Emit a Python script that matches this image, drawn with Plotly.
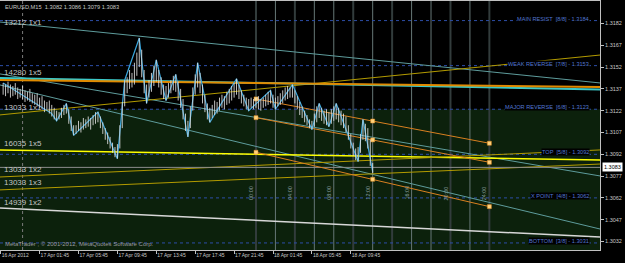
import plotly.graph_objects as go
import pandas as pd

# ---------------- data ----------------
HEADER = "EURUSD,M15  1.3082 1.3086 1.3079 1.3083"
COPYRIGHT = "MetaTrader , © 2001-2012, MetaQuotes Software Corp."
FIRST_BAR = "2012-04-16 22:00"
LAST_PRICE = 1.3083

HIGHS = [1.3141, 1.3140, 1.3142, 1.3140, 1.3139, 1.3141, 1.3138, 1.3137, 1.3139, 1.3136,
         1.3135, 1.3137, 1.3134, 1.3133, 1.3134, 1.3131, 1.3132, 1.3129, 1.3128, 1.3129,
         1.3126, 1.3124, 1.3122, 1.3121, 1.3124,
         1.3126, 1.3127, 1.3123, 1.3118, 1.3112,
         1.3112, 1.3115, 1.3114, 1.3117, 1.3116, 1.3118, 1.3117, 1.3119, 1.3121, 1.3121,
         1.3118, 1.3114, 1.3110, 1.3107, 1.3104, 1.3100, 1.3097, 1.3099,
         1.3112, 1.3128, 1.3143, 1.3145, 1.3150, 1.3148, 1.3155, 1.3162, 1.3172,
         1.3164, 1.3150, 1.3140,
         1.3143, 1.3148, 1.3153, 1.3157,
         1.3150, 1.3145, 1.3140, 1.3139, 1.3141, 1.3143, 1.3146, 1.3147, 1.3142, 1.3137, 1.3130, 1.3120, 1.3115,
         1.3125, 1.3138, 1.3147, 1.3155,
         1.3148, 1.3140, 1.3133, 1.3127, 1.3124,
         1.3126, 1.3129, 1.3128, 1.3131, 1.3133, 1.3132, 1.3135, 1.3137, 1.3139, 1.3141, 1.3144,
         1.3140, 1.3136, 1.3133, 1.3131, 1.3130, 1.3131, 1.3130, 1.3131, 1.3132, 1.3130,
         1.3131, 1.3133, 1.3135, 1.3136, 1.3133, 1.3131, 1.3132, 1.3134, 1.3136, 1.3138,
         1.3139, 1.3138, 1.3140,
         1.3136, 1.3132, 1.3128, 1.3125, 1.3122, 1.3119, 1.3116, 1.3115,
         1.3120, 1.3125, 1.3127, 1.3124, 1.3122, 1.3123, 1.3121, 1.3123, 1.3125, 1.3127, 1.3124, 1.3122, 1.3120, 1.3118,
         1.3112, 1.3106, 1.3100, 1.3096, 1.3097,
         1.3106, 1.3116, 1.3113, 1.3110, 1.3102, 1.3086]
LOWS = [1.3133, 1.3132, 1.3134, 1.3131, 1.3132, 1.3133, 1.3130, 1.3131, 1.3130, 1.3128,
        1.3129, 1.3128, 1.3127, 1.3126, 1.3125, 1.3124, 1.3123, 1.3121, 1.3122, 1.3120,
        1.3118, 1.3116, 1.3115, 1.3116, 1.3117,
        1.3119, 1.3120, 1.3113, 1.3108, 1.3105,
        1.3106, 1.3108, 1.3107, 1.3109, 1.3110, 1.3111, 1.3109, 1.3112, 1.3113, 1.3114,
        1.3110, 1.3106, 1.3102, 1.3099, 1.3096, 1.3093, 1.3090, 1.3089,
        1.3096, 1.3110, 1.3125, 1.3134, 1.3137, 1.3138, 1.3140, 1.3146, 1.3152,
        1.3145, 1.3134, 1.3127,
        1.3131, 1.3135, 1.3139, 1.3142,
        1.3138, 1.3133, 1.3130, 1.3129, 1.3131, 1.3134, 1.3136, 1.3135, 1.3129, 1.3124, 1.3116, 1.3108, 1.3104,
        1.3110, 1.3122, 1.3133, 1.3138,
        1.3134, 1.3127, 1.3121, 1.3116, 1.3114,
        1.3117, 1.3119, 1.3120, 1.3122, 1.3124, 1.3123, 1.3126, 1.3127, 1.3129, 1.3131, 1.3133,
        1.3130, 1.3127, 1.3125, 1.3123, 1.3122, 1.3124, 1.3123, 1.3124, 1.3123, 1.3122,
        1.3124, 1.3125, 1.3126, 1.3127, 1.3124, 1.3123, 1.3125, 1.3126, 1.3127, 1.3129,
        1.3130, 1.3131, 1.3131,
        1.3127, 1.3123, 1.3119, 1.3117, 1.3114, 1.3112, 1.3110, 1.3109,
        1.3111, 1.3114, 1.3117, 1.3115, 1.3113, 1.3112, 1.3111, 1.3113, 1.3115, 1.3116, 1.3114, 1.3112, 1.3110, 1.3107,
        1.3102, 1.3096, 1.3091, 1.3088, 1.3087,
        1.3093, 1.3102, 1.3101, 1.3096, 1.3084, 1.3079]

ZZ_BAR = [1, 21, 23, 27, 30, 40, 48, 51, 57, 60, 64, 68, 72, 77, 81, 86, 97, 102, 111,
          113, 120, 128, 131, 135, 138, 147, 149, 153]
ZZ_PRICE = [1.3141, 1.3120, 1.3115, 1.3127, 1.3105, 1.3121, 1.3089, 1.3143, 1.3172, 1.3127,
            1.3157, 1.3129, 1.3147, 1.3104, 1.3155, 1.3114, 1.3144, 1.3122, 1.3136,
            1.3123, 1.3140, 1.3109, 1.3127, 1.3111, 1.3127, 1.3087, 1.3116, 1.3080]

X_START = "2012-04-16 21:40:40"
X_END = "2012-04-19 11:22:30"
Y_MIN, Y_MAX = 1.302615, 1.319748

Y_TICKS = [1.3182, 1.3167, 1.3152, 1.3137, 1.3122, 1.3107, 1.3092, 1.3077, 1.3062, 1.3047, 1.3032]
X_TICKS = ["2012-04-16 21:45", "2012-04-17 01:45", "2012-04-17 05:45", "2012-04-17 09:45",
           "2012-04-17 13:45", "2012-04-17 17:45", "2012-04-17 21:45", "2012-04-18 01:45",
           "2012-04-18 05:45", "2012-04-18 09:45"]
X_TICK_TEXT = ["16 Apr 2012", "17 Apr 01:45", "17 Apr 05:45", "17 Apr 09:45", "17 Apr 13:45",
               "17 Apr 17:45", "17 Apr 21:45", "18 Apr 01:45", "18 Apr 05:45", "18 Apr 09:45"]

MM_LEVELS = [1.3184, 1.3153, 1.3123, 1.3092, 1.3062, 1.3031]
MM_NAMES = ["MAIN RESIST  [8/8]", "WEAK REVERSE  [7/8]", "MAJOR REVERSE  [6/8]",
            "TOP  [5/8]", "X POINT  [4/8]", "BOTTOM  [3/8]"]
GREEN_TOP = 1.3123

# Gann / trend lines: price at left edge and right edge
LINE_START = [1.31830, 1.31473, 1.31397, 1.30551, 1.30950, 1.30764, 1.30675, 1.31191, 1.31445, 1.31431]
LINE_END = [1.31411, 1.30771, 1.30406, 1.30351, 1.30881, 1.30950, 1.30853, 1.31603, 1.31366, 1.31383]
LINE_COLOR = ["#5e9c9c", "#5e9c9c", "#5e9c9c", "#d8d8d8", "#ffff00", "#b39b00", "#b39b00",
              "#b39b00", "#3cc8c8", "#e08a00"]
LINE_WIDTH = [1, 1, 1, 1.5, 1.5, 1, 1, 1, 2, 2]

GANN_TEXT = ["13212 1x1", "14280 1x5", "13033 1x1", "16035 1x5", "13033 1x2", "13033 1x3", "14939 1x2"]
GANN_LINE = [0, 8, 7, 4, 5, 6, 3]
GANN_SHIFT = [0, 6, 7, 6, 7, 7, 5]

PF_TIMES = ["2012-04-18 00:00", "2012-04-18 12:00", "2012-04-19 00:00"]
PF_UPPER = [1.31301, 1.31149, 1.30996]
PF_MID = [1.31172, 1.31019, 1.30865]
PF_LOWER = [1.30934, 1.30748, 1.30560]

VLINES = pd.date_range("2012-04-18 00:00", "2012-04-19 00:00", freq="2h")
VLINE_DARK = [True, False, True, False, False, True, False, True, False, False, True, False, True]
VLABELS = ["00:00", "", "04:00", "", "08:00", "", "12:00", "", "16:00", "", "20:00", "", "24:00"]
DAY_SEP = "2012-04-17 00:00"

# ---------------- figure ----------------
FONT = "Liberation Sans"
bar_times = pd.date_range(FIRST_BAR, periods=len(HIGHS), freq="15min")

fig = go.Figure()

for p0, p1, c, w in zip(LINE_START, LINE_END, LINE_COLOR, LINE_WIDTH):
    fig.add_trace(go.Scatter(x=[X_START, X_END], y=[p0, p1], mode="lines",
                             line=dict(color=c, width=w), hoverinfo="skip"))

fig.add_trace(go.Scatter(x=[X_START, X_END], y=[LAST_PRICE, LAST_PRICE], mode="lines",
                         line=dict(color="#8c8c8c", width=1), hoverinfo="skip"))

for ys in (PF_UPPER, PF_MID, PF_LOWER):
    fig.add_trace(go.Scatter(x=PF_TIMES, y=ys, mode="lines+markers",
                             line=dict(color="#d98020", width=1),
                             marker=dict(symbol="square", size=4, color="#ffd27a",
                                         line=dict(color="#e08a20", width=0.5)),
                             hoverinfo="skip"))

# zigzag
fig.add_trace(go.Scatter(x=[bar_times[i - 1] for i in ZZ_BAR], y=ZZ_PRICE, mode="lines",
                         line=dict(color="#3aa6dc", width=1.2), hoverinfo="skip"))

# price bars (high-low)
bx, by = [], []
for t, h, l in zip(bar_times, HIGHS, LOWS):
    bx += [t, t, None]
    by += [l, h, None]
fig.add_trace(go.Scatter(x=bx, y=by, mode="lines", line=dict(color="#e2e2e2", width=1),
                         opacity=0.85, hoverinfo="skip"))

shapes = []
shapes.append(dict(type="rect", xref="paper", yref="y", x0=0, x1=1, y0=Y_MIN, y1=GREEN_TOP,
                   fillcolor="#0c210c", line=dict(width=0), layer="below"))
for t, dark in zip(VLINES, VLINE_DARK):
    shapes.append(dict(type="line", xref="x", yref="paper", x0=t, x1=t, y0=0, y1=1,
                       line=dict(color="#323c3c" if dark else "#667776", width=2 if dark else 1),
                       layer="below"))
shapes.append(dict(type="line", xref="x", yref="paper", x0=DAY_SEP, x1=DAY_SEP, y0=0, y1=1,
                   line=dict(color="#7a7a7a", width=1, dash="dot"), layer="below"))
for lv in MM_LEVELS:
    shapes.append(dict(type="line", xref="paper", yref="y", x0=0, x1=1, y0=lv, y1=lv,
                       line=dict(color="#2d4ea8", width=1, dash="dot"), layer="below"))

ann = []
ann.append(dict(text=HEADER, xref="paper", yref="paper", x=0.005, y=1, xanchor="left",
                yanchor="top", yshift=-1, showarrow=False,
                font=dict(family=FONT, size=5.7, color="#c8c8c8")))
ann.append(dict(text=COPYRIGHT, xref="paper", yref="paper", x=0.005, y=0, xanchor="left",
                yanchor="bottom", yshift=1, showarrow=False,
                font=dict(family=FONT, size=6, color="#9a9a9a")))
for lv, name in zip(MM_LEVELS, MM_NAMES):
    ann.append(dict(text=f"{name} - {lv:.4f}", xref="paper", yref="y", x=590 / 600, y=lv,
                    xanchor="right", yanchor="middle", yshift=2, showarrow=False,
                    bgcolor="black", borderpad=0,
                    font=dict(family=FONT, size=5.6, color="#5277d0")))
for txt, li, sh in zip(GANN_TEXT, GANN_LINE, GANN_SHIFT):
    ann.append(dict(text=txt, xref="paper", yref="y", x=0.004, y=LINE_START[li],
                    xanchor="left", yanchor="middle", yshift=sh, showarrow=False,
                    font=dict(family=FONT, size=8, color="#c4c4c4")))
for t, lab in zip(VLINES, VLABELS):
    if lab:
        ann.append(dict(text=lab, xref="x", yref="paper", x=t, y=0.229, xanchor="center",
                        yanchor="middle", xshift=-5, textangle=-90, showarrow=False,
                        font=dict(family=FONT, size=5.5, color="#8fa0a0")))
ann.append(dict(text=f"{LAST_PRICE:.4f}", xref="paper", yref="y", x=1, y=LAST_PRICE,
                xanchor="left", yanchor="middle", xshift=2, showarrow=False,
                bgcolor="white", borderpad=1,
                font=dict(family=FONT, size=5.5, color="black")))

fig.update_layout(
    width=625, height=263,
    margin=dict(l=0, r=25, t=1, b=13),
    paper_bgcolor="black", plot_bgcolor="black",
    showlegend=False, hovermode=False,
    shapes=shapes, annotations=ann,
    xaxis=dict(type="date", range=[X_START, X_END], tickvals=X_TICKS, ticktext=X_TICK_TEXT,
               ticklabelposition="outside right", ticks="outside", ticklen=3,
               tickcolor="#c0c0c0", showgrid=False, zeroline=False,
               showline=True, linecolor="#c0c0c0", mirror=True,
               tickfont=dict(family=FONT, size=5, color="#c8c8c8")),
    yaxis=dict(range=[Y_MIN, Y_MAX], side="right", tickvals=Y_TICKS,
               ticktext=[f"{v:.4f}" for v in Y_TICKS], ticks="outside", ticklen=3,
               tickcolor="#c0c0c0", showgrid=False, zeroline=False,
               showline=True, linecolor="#c0c0c0", mirror=True,
               tickfont=dict(family=FONT, size=5.5, color="#c8c8c8")),
)

fig.write_html("out.html")
